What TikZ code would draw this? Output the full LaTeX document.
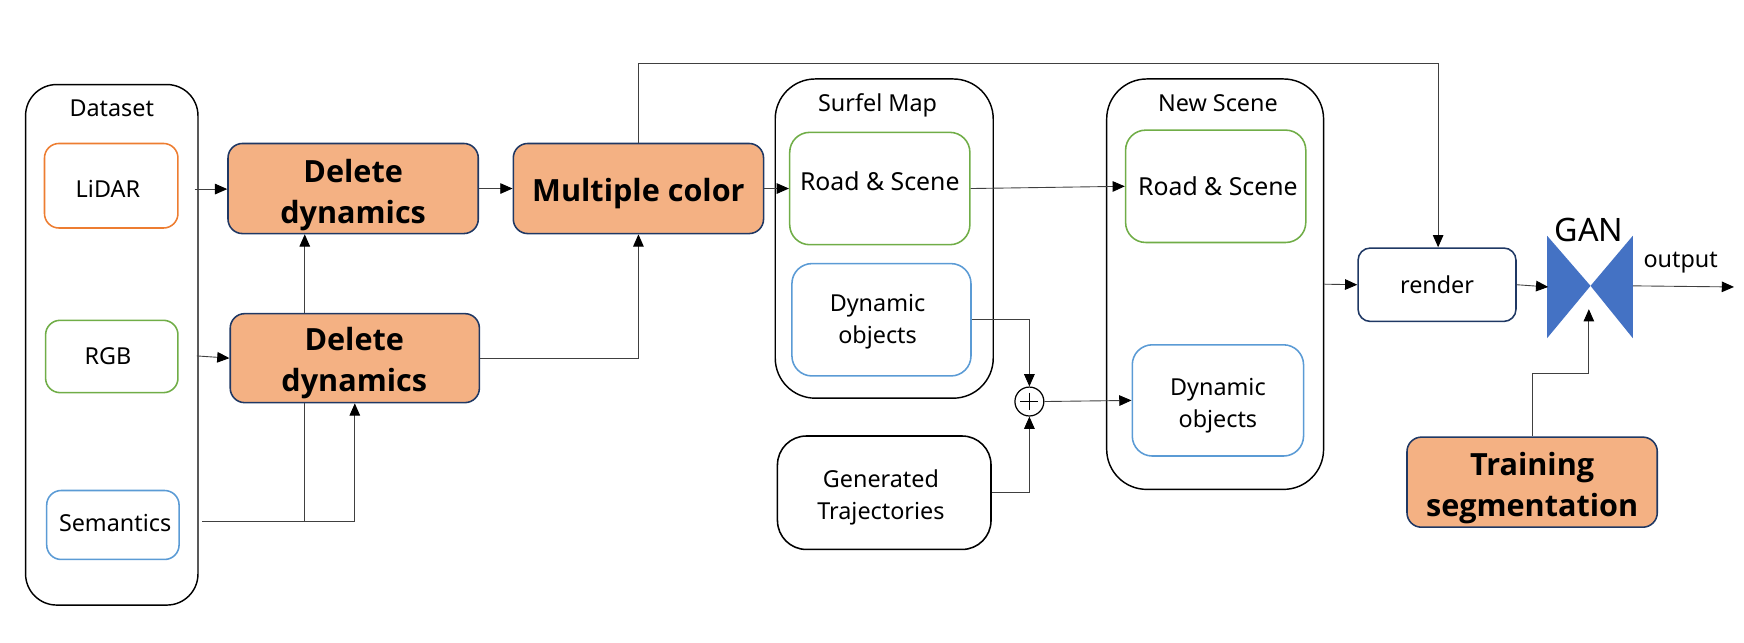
\documentclass[tikz,border=0pt]{standalone}
\usepackage{fontspec}
\setmainfont{Noto Sans}[BoldFont={Open Sans Bold}]
\usetikzlibrary{arrows.meta}
\definecolor{orangeline}{HTML}{ED7D31}
\definecolor{greenline}{HTML}{70AD47}
\definecolor{blueline}{HTML}{5B9BD5}
\definecolor{navyline}{HTML}{1F3864}
\definecolor{stagefill}{HTML}{F4B183}
\definecolor{ganfill}{HTML}{4472C4}
\definecolor{wire}{HTML}{404040}
\tikzset{
  every node/.style={inner sep=0pt,font=\fontsize{21}{29}\selectfont,align=center},
  box/.style={draw,rounded corners=13pt,line width=1.4pt},
  group/.style={draw=black,rounded corners=36pt,line width=1.3pt},
  stage/.style={box,draw=navyline,fill=stagefill,minimum width=225pt,minimum height=81pt},
  stagetxt/.style={font=\fontsize{27.5}{37}\selectfont\bfseries},
  roadtxt/.style={font=\fontsize{22.3}{29}\selectfont},
  link/.style={draw=wire,line width=0.8pt,-{Triangle[length=11pt,width=9.5pt,black]}},
  plain/.style={draw=wire,line width=0.8pt}
}
\begin{document}
\begin{tikzpicture}[x=1pt,y=-1pt]
\useasboundingbox (0,0) rectangle (1568,578);
\node[group,rounded corners=28pt,minimum width=155pt,minimum height=468pt] (dataset) at (100.5,310) {};
\node (datasettxt) at (100.5,97) {Dataset};
\node[box,draw=orangeline,minimum width=120pt,minimum height=76pt] (lidar) at (100,167) {};
\node (lidartxt) at (97,170) {LiDAR};
\node[box,draw=greenline,minimum width=119pt,minimum height=65pt] (rgb) at (100.5,320.5) {};
\node (rgbtxt) at (97,320) {RGB};
\node[box,draw=blueline,minimum width=119pt,minimum height=62pt] (sem) at (101.5,472) {};
\node (semtxt) at (103.5,470) {Semantics};
\node[stage] (delA) at (317.5,169.5) {};
\node[stagetxt] (delAtxt) at (317.5,175) {Delete\\dynamics};
\node[stage,minimum width=224pt,minimum height=80pt] (delB) at (319,322) {};
\node[stagetxt] (delBtxt) at (318.5,326.5) {Delete\\dynamics};
\node[stage] (colr) at (574,169.5) {};
\node[stagetxt] (colrtxt) at (574,174) {Multiple color};
\node[group,minimum width=196pt,minimum height=287pt] (surfel) at (795,214.5) {};
\node (surfeltxt) at (789,95) {Surfel Map};
\node[box,draw=greenline,rounded corners=18pt,minimum width=162pt,minimum height=101pt] (roadA) at (791,169.5) {};
\node[roadtxt] (roadAtxt) at (791,163) {Road \& Scene};
\node[box,draw=blueline,rounded corners=18pt,minimum width=161pt,minimum height=101pt] (dynA) at (792.5,287.5) {};
\node (dynAtxt) at (789,289) {Dynamic\\objects};
\node[box,draw=black,rounded corners=26pt,minimum width=192pt,minimum height=102pt] (gen) at (795,443) {};
\node (gentxt) at (792,447) {Generated\\Trajectories};
\node[group,minimum width=195pt,minimum height=369pt] (newsc) at (1092.5,255.5) {};
\node (newsctxt) at (1095,93) {New Scene};
\node[box,draw=greenline,rounded corners=18pt,minimum width=162pt,minimum height=101pt] (roadB) at (1093,167.5) {};
\node[roadtxt] (roadBtxt) at (1095,167) {Road \& Scene};
\node[box,draw=blueline,rounded corners=18pt,minimum width=154pt,minimum height=100pt] (dynB) at (1095,360) {};
\node (dynBtxt) at (1095,365) {Dynamic\\objects};
\node[box,draw=navyline,rounded corners=11pt,minimum width=142pt,minimum height=66pt] (render) at (1292,256) {render};
\node[stage] (train) at (1377.5,433.5) {};
\node[stagetxt] (traintxt) at (1377.5,438.5) {Training\\segmentation};
\node[draw=black,circle,line width=1.1pt,minimum size=26pt] (plus) at (925.5,361) {};
\draw[line width=1pt] (plus.center) ++(-8,0) -- ++(16,0) (plus.center) ++(0,-8) -- ++(0,16);
% gan
\fill[ganfill] (1391,212) -- (1430,257) -- (1391,304) -- cycle;
\fill[ganfill] (1468,212) -- (1430,257) -- (1468,304) -- cycle;
\node[font=\fontsize{29}{33}\selectfont] (gantxt) at (1428.5,207) {GAN};
\node (outputtxt) at (1511,236) {output};
\coordinate (ganW) at (1392,258);
\coordinate (ganE) at (1468,257);
\coordinate (ganS) at (1428.5,278);
\coordinate (outEnd) at (1559,258);
\coordinate (lidarOut) at (175,170);
\coordinate (rgbOut) at (177,320);
\coordinate (semOut) at (182,469);
\coordinate (semMid) at (274,469);
\coordinate (semEnd) at (319,469);
\coordinate (busB) at (1293,57);
% links
\draw[link] (lidarOut) -- (delA.west |- lidarOut);
\draw[link] (rgbOut) -- (delB.west);
\draw[plain] (semOut) -- (semMid);
\draw[link] (semMid) -- (semEnd) -- (delB.south);
\draw[plain] (semMid) -- (delB.south -| semMid);
\draw[link] (delB.north -| semMid) -- (delA.south -| semMid);
\draw[link] (delB.east) -| (colr.south);
\draw[link] (delA.east) -- (colr.west);
\draw[plain] (colr.north) |- (busB);
\draw[link] (busB) -- (render.north -| busB);
\draw[link] (colr.east) -- (roadA.west);
\draw[link] (roadA.east) -- (roadB.west);
\draw[link] (dynA.east) -| (plus.north);
\draw[link] (gen.east) -| (plus.south);
\draw[link] (plus.east) -- (dynB.west);
\draw[link] (newsc.east) -- (render.west);
\draw[link] (render.east) -- (ganW);
\draw[link] (ganE) -- (outEnd);
\draw[link] (train.north) |- (1428.5,336) -- (ganS);
\end{tikzpicture}
\end{document}
